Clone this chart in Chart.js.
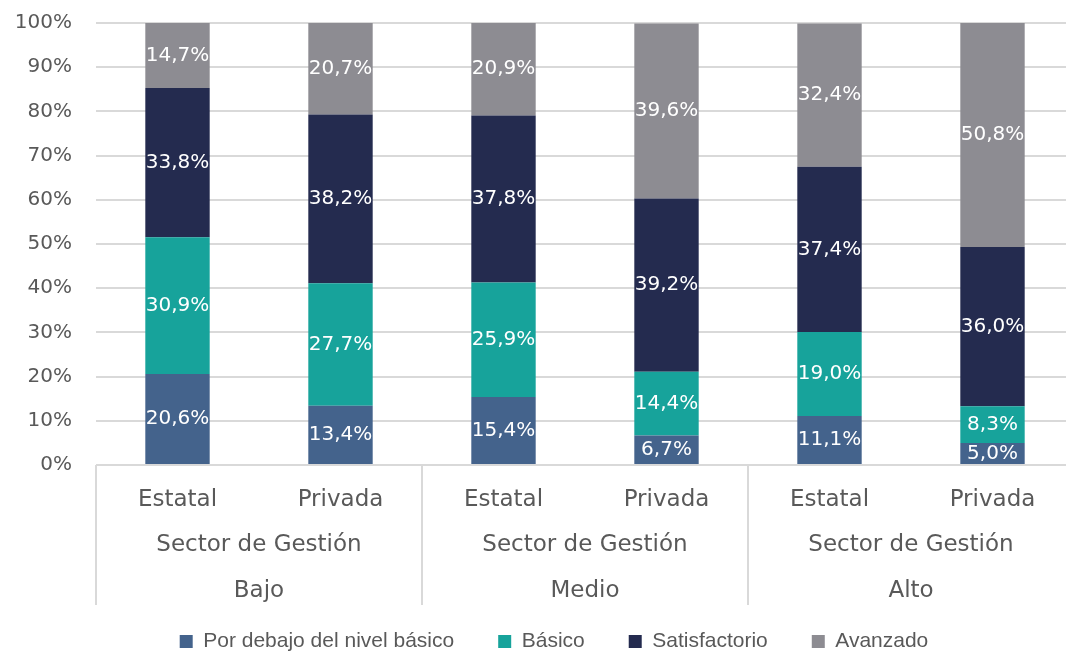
<!DOCTYPE html>
<html>
<head>
<meta charset="utf-8">
<script src="https://cdn.jsdelivr.net/npm/chart.js@4/dist/chart.umd.min.js"></script>
<style>
  html, body { margin: 0; padding: 0; background: #fff; overflow: hidden; }
  #marco { width: 1066px; height: 652px; overflow: hidden; position: relative; }
  #wrap { width: 1074px; height: 675px; position: absolute; left: 0; top: -13px; }
</style>
</head>
<body>
<div id="marco"><div id="wrap"><canvas id="grafico"></canvas></div></div>
<script>
// datos
const sectores = ['Estatal', 'Privada', 'Estatal', 'Privada', 'Estatal', 'Privada'];
const grupos = ['Bajo', 'Medio', 'Alto'];
const subtitulo = 'Sector de Gestión';

const porDebajo = [20.6, 13.4, 15.4, 6.7, 11.1, 5.0];
const basico = [30.9, 27.7, 25.9, 14.4, 19.0, 8.3];
const satisfactorio = [33.8, 38.2, 37.8, 39.2, 37.4, 36.0];
const avanzado = [14.7, 20.7, 20.9, 39.6, 32.4, 50.8];

const yTicks = [0, 10, 20, 30, 40, 50, 60, 70, 80, 90, 100];

const gris = '#595959';
const fuente = '"DejaVu Sans", sans-serif';

// etiquetas dentro de las barras
const etiquetas = {
  id: 'etiquetas',
  afterDatasetsDraw(chart) {
    const c = chart.ctx;
    c.save();
    c.font = '20px ' + fuente;
    c.fillStyle = '#ffffff';
    c.textAlign = 'center';
    c.textBaseline = 'middle';
    chart.data.datasets.forEach((ds, i) => {
      const meta = chart.getDatasetMeta(i);
      meta.data.forEach((bar, j) => {
        const txt = ds.data[j].toFixed(1).replace('.', ',') + '%';
        c.fillText(txt, bar.x, (bar.y + bar.base) / 2);
      });
    });
    c.restore();
  }
};

// grupos del eje x
const gruposEje = {
  id: 'gruposEje',
  beforeDraw(chart) {
    // la leyenda va algo corrida a la derecha
    chart.legend.left += 17;
    chart.legend.right += 17;
  },
  afterDraw(chart) {
    const c = chart.ctx;
    const x = chart.scales.x;
    const ancho = x.getPixelForValue(1) - x.getPixelForValue(0);
    const y0 = chart.chartArea.bottom;
    c.save();
    c.strokeStyle = '#d9d9d9';
    c.lineWidth = 2;
    for (let g = 0; g <= grupos.length; g++) {
      const px = x.getPixelForValue(g * 2) - ancho / 2;
      c.beginPath();
      c.moveTo(px, y0);
      c.lineTo(px, y0 + 140);
      c.stroke();
    }
    c.font = '23px ' + fuente;
    c.fillStyle = gris;
    c.textAlign = 'center';
    c.textBaseline = 'middle';
    grupos.forEach((nombre, g) => {
      const cx = (x.getPixelForValue(g * 2) + x.getPixelForValue(g * 2 + 1)) / 2;
      c.fillText(subtitulo, cx, y0 + 80);
      c.fillText(nombre, cx, y0 + 126);
    });
    c.restore();
  }
};

const ctx = document.getElementById('grafico');

new Chart(ctx, {
  type: 'bar',
  data: {
    labels: sectores,
    datasets: [
      { label: 'Por debajo del nivel básico', data: porDebajo, backgroundColor: '#44638C' },
      { label: 'Básico', data: basico, backgroundColor: '#17A39B' },
      { label: 'Satisfactorio', data: satisfactorio, backgroundColor: '#242B4F' },
      { label: 'Avanzado', data: avanzado, backgroundColor: '#8D8C92' }
    ]
  },
  options: {
    responsive: true,
    maintainAspectRatio: false,
    animation: false,
    layout: { padding: { top: 9, right: 0, bottom: 0, left: 0 } },
    datasets: { bar: { barPercentage: 0.395, categoryPercentage: 1 } },
    scales: {
      x: {
        stacked: true,
        grid: { display: false, drawTicks: false },
        border: { display: false },
        ticks: { color: gris, font: { family: fuente, size: 23 }, padding: 21, maxRotation: 0 },
        afterFit(scale) { scale.height = 122; }
      },
      y: {
        stacked: true,
        min: 0,
        max: 100,
        afterBuildTicks(scale) { scale.ticks = yTicks.map(v => ({ value: v })); },
        grid: { color: '#d9d9d9', lineWidth: 2, drawTicks: false },
        border: { display: false },
        ticks: {
          color: gris,
          font: { family: fuente, size: 20 },
          padding: 24,
          callback: v => v + '%'
        },
        afterFit(scale) { scale.width = 96; }
      }
    },
    plugins: {
      legend: {
        position: 'bottom',
        labels: {
          color: gris,
          font: { family: '"Liberation Sans", sans-serif', size: 21 },
          boxWidth: 13,
          boxHeight: 13,
          padding: 44
        }
      },
      tooltip: { enabled: false }
    }
  },
  plugins: [etiquetas, gruposEje]
});
</script>
</body>
</html>
